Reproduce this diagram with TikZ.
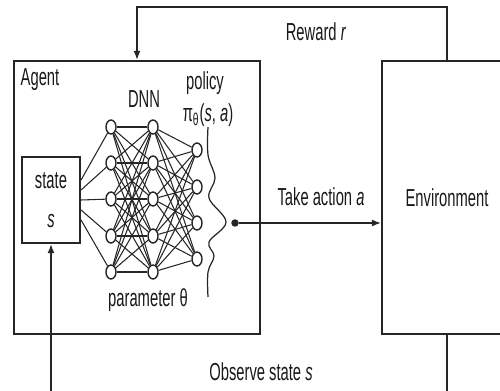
\documentclass[tikz,border=0pt]{standalone}
\usepackage{fontspec}
\setmainfont{Liberation Sans}[FakeStretch=0.6]
\usetikzlibrary{shapes.geometric, arrows.meta, positioning, calc}

\begin{document}
\begin{tikzpicture}[
    box/.style={rectangle, draw=black!85, line width=1.2pt},
    neuron/.style={ellipse, draw=black!85, line width=0.8pt, minimum width=0.2cm, minimum height=0.28cm, inner sep=0pt},
    wire/.style={black!85, line width=0.6pt},
    lbl/.style={font=\fontsize{14pt}{17pt}\selectfont, text=black!90, inner sep=1pt},
    arrow/.style={-{Latex[length=1.8mm, width=1.4mm]}, line width=0.9pt, black!85}
]
\useasboundingbox (0,0) rectangle (10,7.8);
\clip (0,0) rectangle (10,7.8);

% Agent and environment boxes
\node[box, minimum width=4.92cm, minimum height=5.46cm] (agent) at (2.74,3.85) {};
\node[box, lbl, minimum width=2.6cm, minimum height=5.46cm] (env) at (8.94,3.85) {Environment};
\node[lbl] (agentlbl) at (0.8,6.2) {Agent};

% State input
\node[box, lbl, align=center, minimum width=1.16cm, minimum height=1.72cm] (state) at (1.02,3.80) {state\\[0.17cm]\textit{s}};

% DNN layers
\foreach \i/\y in {1/5.26, 2/4.54, 3/3.82, 4/3.08, 5/2.36} {
    \node[neuron] (in\i) at (2.22,\y) {};
    \node[neuron] (hid\i) at (3.06,\y) {};
}
\foreach \i/\y in {1/4.80, 2/4.06, 3/3.34, 4/2.62}
    \node[neuron] (out\i) at (3.94,\y) {};

% Connections
\foreach \i in {1,...,5} {
    \draw[wire] ($(state.east)+(0,{(3-\i)*0.2})$) -- (in\i);
    \foreach \j in {1,...,5} \draw[wire] (in\i) -- (hid\j);
    \foreach \j in {1,...,4} \draw[wire] (hid\i) -- (out\j);
}

% Labels inside the agent
\node[lbl] (dnn) at (2.88,5.82) {DNN};
\node[lbl] (policy) at (4.1,6.14) {policy};
\node[lbl] (pilbl) at (4.16,5.5) {π\textsubscript{θ}(\textit{s}, \textit{a})};
\node[lbl] (param) at (2.96,1.8) {parameter θ};

% Policy brace (wavy)
\draw[wire, line width=0.7pt] plot[smooth, tension=0.6] coordinates {(4.16,5.26) (4.16,4.70) (4.30,4.24) (4.18,3.84) (4.52,3.36) (4.18,2.96) (4.28,2.68) (4.16,2.36) (4.16,1.86)};

% Action
\node[circle, fill=black!85, inner sep=0pt, minimum size=0.15cm] (dot) at (4.70,3.34) {};
\draw[arrow] (dot) -- (dot -| env.west);
\node[lbl] (action) at (6.42,3.86) {Take action \textit{a}};

% Reward and observation loops
\draw[arrow] (env.north) -- ++(0,1.06) -| (agent.north);
\node[lbl] (reward) at (6.32,7.16) {Reward \textit{r}};
\draw[arrow] (env.south) -- ++(0,-1.5) -| (state.south);
\node[lbl] (observe) at (5.22,0.36) {Observe state \textit{s}};

\end{tikzpicture}
\end{document}
